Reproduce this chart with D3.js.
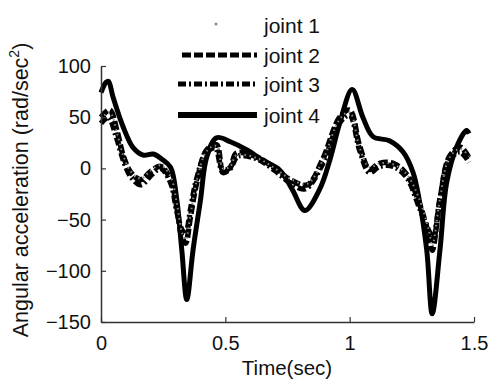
<!DOCTYPE html>
<html><head><meta charset="utf-8">
<script src="https://cdn.jsdelivr.net/npm/d3@7"></script>
<style>body{margin:0;background:#fff}svg{display:block}</style>
</head><body><svg id="c" width="489" height="383"></svg>
<script>
const xTicks = [0, 0.5, 1, 1.5];
const xTickLabels = ["0", "0.5", "1", "1.5"];
const yTicks = [-150, -100, -50, 0, 50, 100];
const seriesNames = ["joint 1", "joint 2", "joint 3", "joint 4"];

const joint1T = [0, 0.035, 0.065, 0.09, 0.12, 0.16, 0.2, 0.24, 0.28, 0.305, 0.325, 0.34, 0.36, 0.385, 0.425, 0.465, 0.49, 0.52, 0.545, 0.627, 0.7, 0.76, 0.83, 0.89, 0.96, 1.0, 1.04, 1.08, 1.12, 1.175, 1.23, 1.28, 1.32, 1.332, 1.363, 1.4, 1.444, 1.48];
const joint1V = [48, 55, 34, 12, -3, -10, -2, 3, -8, -34, -62, -70, -45, -12, 17, 22, 0, 2, 13, 10, 0, -10, -15, 7, 48, 55, 20, 1, 5, 4, -6, -30, -62, -76, -30, 10, 19, 12];

const joint2T = [0, 0.035, 0.065, 0.09, 0.12, 0.16, 0.2, 0.24, 0.28, 0.305, 0.325, 0.34, 0.36, 0.385, 0.425, 0.465, 0.49, 0.52, 0.545, 0.627, 0.7, 0.76, 0.83, 0.89, 0.96, 1.0, 1.04, 1.08, 1.12, 1.175, 1.23, 1.28, 1.32, 1.332, 1.363, 1.4, 1.444, 1.48];
const joint2V = [50, 57, 36, 12, -4, -11, -3, 2, -11, -38, -67, -73, -47, -14, 18, 23, -2, 1, 15, 11, 0, -11, -16, 8, 50, 57, 22, -1, 5, 5, -6, -34, -67, -80, -31, 11, 21, 10];

const joint3T = [0, 0.03, 0.06, 0.09, 0.12, 0.16, 0.2, 0.24, 0.28, 0.305, 0.325, 0.34, 0.36, 0.385, 0.425, 0.46, 0.49, 0.52, 0.55, 0.63, 0.7, 0.76, 0.82, 0.89, 0.96, 1.0, 1.04, 1.08, 1.12, 1.175, 1.23, 1.28, 1.32, 1.335, 1.365, 1.4, 1.444, 1.48];
const joint3V = [44, 50, 32, 8, -8, -16, -7, 0, -14, -42, -60, -64, -40, -10, 16, 20, -4, 0, 12, 9, -2, -14, -20, 4, 45, 52, 18, -4, 2, 2, -9, -38, -62, -70, -27, 8, 16, 6];

const joint4T = [0, 0.02, 0.03, 0.048, 0.09, 0.13, 0.17, 0.21, 0.245, 0.28, 0.305, 0.325, 0.345, 0.37, 0.40, 0.425, 0.465, 0.52, 0.587, 0.65, 0.72, 0.77, 0.82, 0.88, 0.92, 0.96, 1.01, 1.053, 1.094, 1.16, 1.215, 1.255, 1.28, 1.31, 1.332, 1.363, 1.39, 1.43, 1.47, 1.48];
const joint4V = [74, 84, 85, 70, 40, 20, 13, 14, 9, 1, -31, -80, -128, -80, -31, 11, 30, 26, 18, 8, -2, -21, -41, -20, 8, 44, 77, 50, 31, 27, 16, -4, -31, -80, -142, -80, -14, 21, 37, 34];

const FONT = "Liberation Sans, Arial, sans-serif";
const svg = d3.select("#c");
const x = d3.scaleLinear().domain([0, 1.5]).range([101, 474]);
const y = d3.scaleLinear().domain([-150, 100]).range([322, 66]);

const styles = [
  {stroke: "#8a8a8a", width: 2, dash: "1.5,3.5"},
  {stroke: "#000", width: 5.5, dash: "9,3"},
  {stroke: "#000", width: 5.5, dash: "8,3,2,3"},
  {stroke: "#000", width: 5, dash: null}
];
const data = [[joint1T, joint1V], [joint2T, joint2V], [joint3T, joint3V], [joint4T, joint4V]];
const line = d3.line().x(d => x(d[0])).y(d => y(d[1])).curve(d3.curveCatmullRom.alpha(0.5));

[3, 2, 1, 0].forEach(i => {
  const pts = data[i][0].map((t, k) => [t, data[i][1][k]]);
  const p = svg.append("path").attr("d", line(pts)).attr("fill", "none")
    .attr("stroke", styles[i].stroke).attr("stroke-width", styles[i].width)
    .attr("stroke-linejoin", "round");
  if (styles[i].dash) p.attr("stroke-dasharray", styles[i].dash);
});

const xAxis = d3.axisBottom(x).tickValues(xTicks).tickFormat((d, i) => xTickLabels[i]).tickSizeInner(-5).tickSizeOuter(0).tickPadding(14);
const yAxis = d3.axisLeft(y).tickValues(yTicks).tickSizeInner(-5).tickSizeOuter(0).tickPadding(10);
const gx = svg.append("g").attr("transform", "translate(0,322)").call(xAxis);
const gy = svg.append("g").attr("transform", "translate(101,0)").call(yAxis);
[gx, gy].forEach(g => {
  g.attr("font-family", FONT).attr("font-size", 20);
  g.select(".domain").attr("stroke", "#333").attr("stroke-width", 1.5);
  g.selectAll(".tick line").attr("stroke", "#333").attr("stroke-width", 1.2);
  g.selectAll("text").attr("fill", "#111");
});

svg.append("text").attr("x", 287).attr("y", 375).attr("text-anchor", "middle")
  .attr("font-family", FONT).attr("font-size", 20.5).attr("fill", "#111").text("Time(sec)");
const yl = svg.append("text").attr("transform", "translate(28,190) rotate(-90)").attr("text-anchor", "middle")
  .attr("font-family", FONT).attr("font-size", 21.5).attr("fill", "#111");
yl.append("tspan").text("Angular acceleration (rad/sec");
yl.append("tspan").attr("font-size", 14).attr("dy", -9).text("2");
yl.append("tspan").attr("dy", 9).text(")");

const legY = [25, 55, 84, 115];
seriesNames.forEach((name, i) => {
  const ly = legY[i];
  if (i === 0) {
    svg.append("circle").attr("cx", 216).attr("cy", ly - 1).attr("r", 1.5).attr("fill", "#8a8a8a");
  } else {
    const l = svg.append("line").attr("x1", i === 1 ? 182 : 178).attr("x2", 257).attr("y1", ly).attr("y2", ly)
      .attr("stroke", "#000").attr("stroke-width", i === 3 ? 6 : 5);
    if (styles[i].dash) l.attr("stroke-dasharray", styles[i].dash);
  }
  svg.append("text").attr("x", 264).attr("y", ly + 8).attr("font-family", FONT).attr("font-size", 21).attr("fill", "#111").text(name);
});
</script></body></html>
